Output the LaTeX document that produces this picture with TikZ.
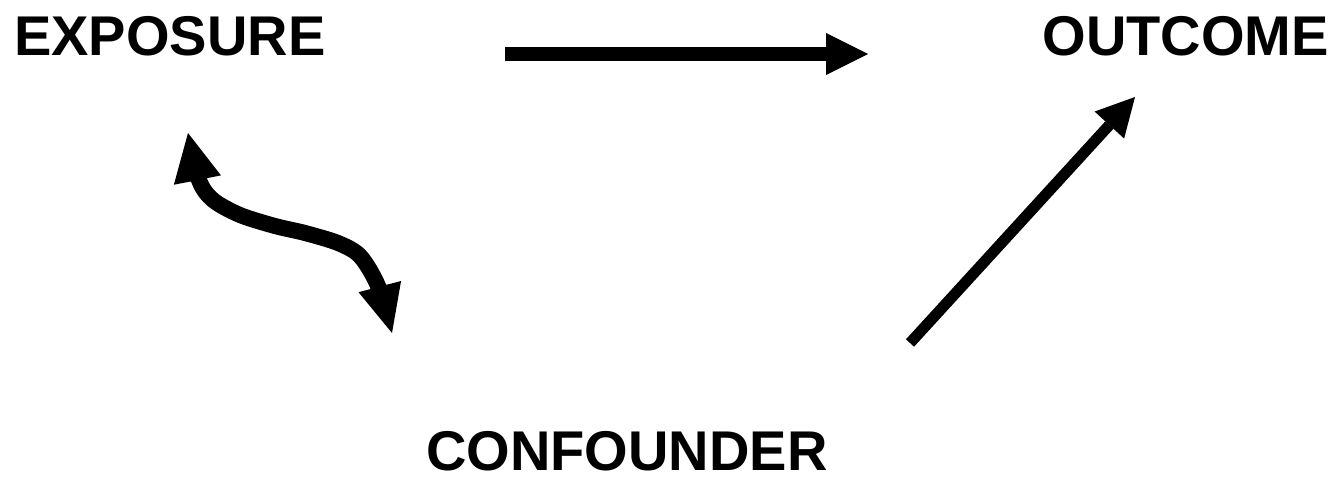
\documentclass[tikz,border=0pt]{standalone}
\usepackage{fontspec}
\setmainfont{Liberation Sans}
\usetikzlibrary{arrows.meta}
\tikzset{
  lbl/.style={font=\fontsize{56}{60}\selectfont\bfseries, inner sep=0pt, text depth=0pt},
  arr/.style={line cap=butt},
}
\begin{document}
\begin{tikzpicture}[x=1pt,y=-1pt]
\useasboundingbox (0,0) rectangle (1335,480);
\node[lbl, anchor=base west] (exp) at (14,55) {EXPOSURE};
\node[lbl, anchor=base east] (out) at (1329,55) {OUTCOME};
\node[lbl, anchor=base] (con) at (627,470) {CONFOUNDER};
\coordinate (h1) at (505,54);
\coordinate (h2) at (868,54);
\coordinate (d1) at (910,343);
\coordinate (d2) at (1135,97);
\draw[arr, line width=14pt, -{Triangle[length=42pt,width=42pt,line width=0pt]}] (h1) -- (h2);
\draw[arr, line width=11pt, -{Triangle[length=38pt,width=40pt,line width=0pt]}] (d1) -- (d2);
\draw[line width=16pt, line join=round,
  {Triangle[length=48pt,width=48pt,line width=0pt]}-{Triangle[length=48pt,width=44pt,line width=0pt]}]
  plot[smooth, tension=0.5] coordinates {(188,133) (199,180) (213,200) (240,215) (275,226) (305,233) (338,243) (360,256) (378,286) (392,333)};
\end{tikzpicture}
\end{document}
